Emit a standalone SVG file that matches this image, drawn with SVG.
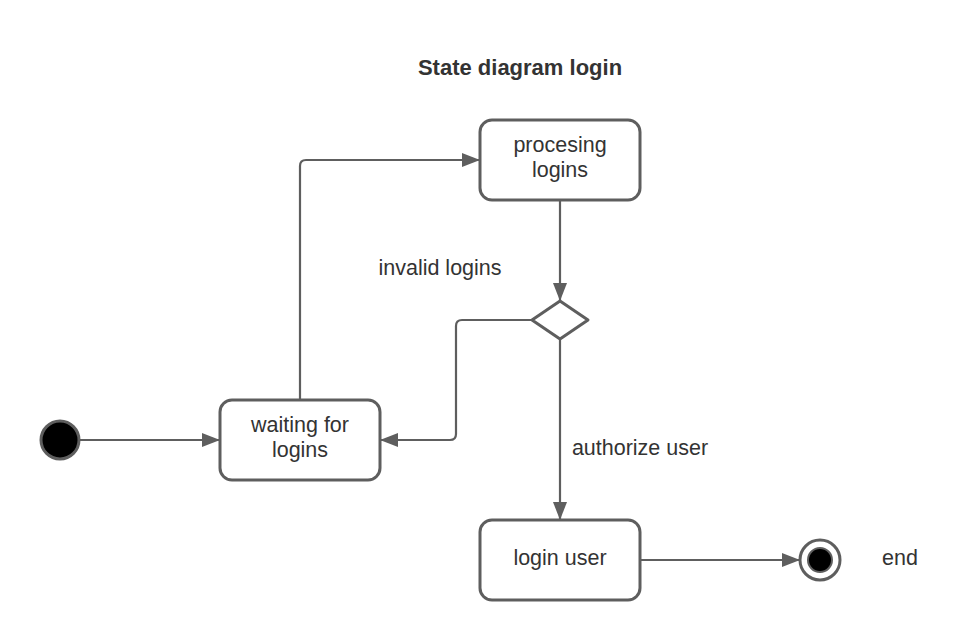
<svg xmlns="http://www.w3.org/2000/svg" width="980" height="640" viewBox="0 0 980 640">
<style>
text{font-family:"Liberation Sans",Arial,sans-serif;fill:#333333;font-size:21.5px}
.title{font-weight:bold;font-size:22px}
.node{fill:#ffffff;stroke:#5e5e5e;stroke-width:3}
.conn{fill:none;stroke:#5e5e5e;stroke-width:2.2;stroke-linejoin:round}
</style>
<defs>
<marker id="arr" viewBox="0 0 18 14" refX="17" refY="7" markerWidth="18" markerHeight="14" markerUnits="userSpaceOnUse" orient="auto">
<path d="M0,0 L18,7 L0,14 Z" fill="#5e5e5e"/>
</marker>
</defs>
<rect width="980" height="640" fill="#ffffff"/>
<text class="title" x="520" y="75" text-anchor="middle">State diagram login</text>
<g id="connectors">
<path class="conn" d="M80,440 L219,440" marker-end="url(#arr)"/>
<path class="conn" d="M300,400 L300,166 Q300,160 306,160 L479,160" marker-end="url(#arr)"/>
<path class="conn" d="M560,200 L560,300" marker-end="url(#arr)"/>
<path class="conn" d="M532,320 L462,320 Q456,320 456,326 L456,434 Q456,440 450,440 L381,440" marker-end="url(#arr)"/>
<path class="conn" d="M560,340 L560,519" marker-end="url(#arr)"/>
<path class="conn" d="M640,560 L799,560" marker-end="url(#arr)"/>
<text x="440" y="275" text-anchor="middle">invalid logins</text>
<text x="640" y="455" text-anchor="middle">authorize user</text>
</g>
<g id="start">
<circle cx="60" cy="440" r="19" fill="#000000" stroke="#5e5e5e" stroke-width="3"/>
</g>
<g id="waiting">
<rect class="node" x="220" y="400" width="160" height="80" rx="12"/>
<text x="300" y="432" text-anchor="middle">waiting for</text>
<text x="300" y="457" text-anchor="middle">logins</text>
</g>
<g id="processing">
<rect class="node" x="480" y="120" width="160" height="80" rx="12"/>
<text x="560" y="152" text-anchor="middle">procesing</text>
<text x="560" y="177" text-anchor="middle">logins</text>
</g>
<g id="decision">
<path class="node" stroke-linejoin="round" d="M560,301 L588,320 L560,339 L532,320 Z"/>
</g>
<g id="login">
<rect class="node" x="480" y="520" width="160" height="80" rx="12"/>
<text x="560" y="565" text-anchor="middle">login user</text>
</g>
<g id="end">
<circle cx="820" cy="560" r="20" fill="#ffffff" stroke="#5e5e5e" stroke-width="3"/>
<circle cx="820" cy="560" r="12" fill="#000000" stroke="#5e5e5e" stroke-width="2"/>
<text x="900" y="565" text-anchor="middle">end</text>
</g>
</svg>
